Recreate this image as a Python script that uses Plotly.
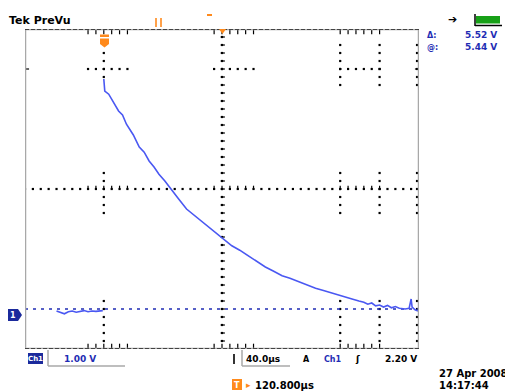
import numpy as np
import plotly.graph_objects as go

# The page body has an 8px margin, so the figure is drawn 8px smaller and
# every pixel position below is given in window coordinates and shifted.
WIN_W, WIN_H = 513, 392
OFF = 8
W, H = WIN_W - OFF, WIN_H - OFF

# ---------------- data ----------------
# time in microseconds relative to trigger, voltage in volts (1 V/div, 40 us/div)
pre_t = [-48, -44, -40, -36, -32, -28, -24, -20, -16, -12, -8, -4, -1]
pre_v = [-0.05, -0.08, -0.12, -0.07, -0.05, -0.08, -0.06, -0.04, -0.07, -0.05, -0.06, -0.05, -0.04]

post_t = [0, 1, 5, 10, 15, 19, 23, 30, 36, 41, 46, 51, 56, 62, 68, 76, 84, 90, 96, 102,
          107, 113, 119, 125, 130, 138, 147, 155, 164, 172, 181, 189, 198, 206, 215, 223,
          231, 239, 246, 252, 259, 264, 268, 272, 276, 280, 284, 288, 292, 296, 300, 306,
          310, 312, 313, 316, 319]
post_v = [5.75, 5.45, 5.37, 5.15, 4.95, 4.85, 4.62, 4.35, 4.05, 3.92, 3.70, 3.55, 3.37, 3.20,
          3.00, 2.75, 2.50, 2.38, 2.25, 2.12, 2.03, 1.90, 1.78, 1.68, 1.58, 1.47, 1.33, 1.20,
          1.05, 0.95, 0.83, 0.77, 0.68, 0.60, 0.52, 0.46, 0.40, 0.33, 0.28, 0.25, 0.20, 0.17,
          0.12, 0.15, 0.08, 0.10, 0.05, 0.09, 0.03, 0.06, 0.02, 0.00, 0.02, 0.25, 0.05, -0.02,
          -0.05]

x_range = [-80, 320]   # 10 divisions of 40 us
y_range = [-1, 7]      # 8 divisions of 1 V, ground at 0 V

ch_scale = "1.00 V"
time_scale = "40.0µs"
trig_level = "2.20 V"
trig_pos = "120.800µs"
delta_v = "5.52 V"
at_v = "5.44 V"
date_txt = "27 Apr 2008"
time_txt = "14:17:44"

# ---------------- helpers ----------------
def px(x):
    return (x - OFF) / W

def py(y):
    return 1 - (y - OFF) / H

TRACE = "#4a58f2"
DARKBLUE = "#1f2db4"
ORANGE = "#ff8a1c"
FONT = "DejaVu Sans"

fig = go.Figure()

# grid dots (graticule fragments)
def vdots(t, v0, v1):
    vs = np.arange(v0, v1 + 1e-6, 0.2)
    return [t] * len(vs), list(vs)

def hdots(v, t0, t1):
    ts = np.arange(t0, t1 + 1e-6, 8)
    return list(ts), [v] * len(ts)

gx, gy = [], []
segs = []
segs.append(vdots(0, 5.8, 6.4))
segs.append(vdots(0, 2.4, 3.4))
segs.append(vdots(0, -0.8, 0.2))
for t in [240, 280, 318]:
    segs.append(vdots(t, 5.6, 6.6))
    segs.append(vdots(t, 2.4, 3.4))
    segs.append(vdots(t, -0.8, 0.2))
segs.append(hdots(6, -16, 24))
segs.append(hdots(6, 112, 152))
segs.append(hdots(6, 240, 280))
segs.append(vdots(120, -1, 7))
segs.append(hdots(3, -80, 320))
for a, b in segs:
    gx += a
    gy += b
fig.add_trace(go.Scatter(x=gx, y=gy, mode="markers", hoverinfo="skip",
                         marker=dict(symbol="square", size=2.2, color="black", line=dict(width=0))))

# small perpendicular ticks near the centre lines and borders
tx, ty = [], []
for t0, t1 in [(-16, 24), (112, 152), (240, 280)]:
    a, b = hdots(3.03, t0, t1); tx += a; ty += b
    a, b = hdots(6.92, t0, t1); tx += a; ty += b
    a, b = hdots(-0.92, t0, t1); tx += a; ty += b
fig.add_trace(go.Scatter(x=tx, y=ty, mode="markers", hoverinfo="skip",
                         marker=dict(symbol="line-ns", size=3, color="black",
                                     line=dict(width=1.2, color="black"))))
cx, cy = vdots(120.8, -0.8, 6.8)
cx += [-78, 318]
cy += [6, 6]
fig.add_trace(go.Scatter(x=cx, y=cy, mode="markers", hoverinfo="skip",
                         marker=dict(symbol="line-ew", size=3, color="black",
                                     line=dict(width=1.2, color="black"))))

# ground reference line
fig.add_trace(go.Scatter(x=x_range, y=[0, 0], mode="lines", hoverinfo="skip",
                         line=dict(color=DARKBLUE, width=1.7, dash="3px,5px")))

# signal
fig.add_trace(go.Scatter(x=pre_t, y=pre_v, mode="lines", line=dict(color=TRACE, width=1.6)))
fig.add_trace(go.Scatter(x=post_t, y=post_v, mode="lines", line=dict(color=TRACE, width=1.6)))

shapes = []
# frame
shapes.append(dict(type="rect", xref="x", yref="y", x0=x_range[0], x1=x_range[1],
                   y0=y_range[0], y1=y_range[1], line=dict(color="#a8a8a8", width=2.5)))
for yv in y_range:
    shapes.append(dict(type="line", xref="x", yref="y", x0=x_range[0], x1=x_range[1],
                       y0=yv, y1=yv, line=dict(color="#222222", width=1.5, dash="4px,2px")))

def pline(x0, y0, x1, y1, color, width):
    shapes.append(dict(type="line", xref="paper", yref="paper", x0=px(x0), y0=py(y0),
                       x1=px(x1), y1=py(y1), line=dict(color=color, width=width)))

def prect(x0, y0, x1, y1, fill, line=None):
    shapes.append(dict(type="rect", xref="paper", yref="paper", x0=px(x0), y0=py(y0),
                       x1=px(x1), y1=py(y1), fillcolor=fill,
                       line=dict(width=0) if line is None else line))

def ppath(pts, fill):
    d = "M " + " L ".join(f"{px(a):.5f},{py(b):.5f}" for a, b in pts) + " Z"
    shapes.append(dict(type="path", xref="paper", yref="paper", path=d,
                       fillcolor=fill, line=dict(width=0)))

# orange markers at top
pline(156, 18, 156, 27, ORANGE, 1.6)
pline(161, 18, 161, 27, ORANGE, 1.6)
pline(207, 15, 212, 15, ORANGE, 2)
prect(100, 34.5, 109, 37, ORANGE)
ppath([(100, 38.5), (109, 38.5), (109, 44), (104.5, 47.5), (100, 44)], ORANGE)
ppath([(219, 29), (226, 29), (222.5, 34)], ORANGE)

# battery indicator
prect(476, 16, 500, 23.5, "#17a017")
pline(475, 14, 475, 26, "black", 1.5)
pline(475, 25.5, 502, 25.5, "black", 1.5)

# ground marker "1"
ppath([(8, 309), (18, 309), (22, 315), (18, 321), (8, 321)], "#1b2a9c")

# bottom boxes / lines
prect(28, 353, 43, 364, "#1b2a9c")
pline(48, 350, 48, 366, "#a9a9a9", 1.5)
pline(48, 366, 125, 366, "#a9a9a9", 1.5)
pline(234, 354, 234, 364, "black", 1.6)
pline(242, 350, 242, 366, "#a9a9a9", 1.5)
pline(242, 366, 290, 366, "#a9a9a9", 1.5)
prect(232, 379, 242, 390, ORANGE)

fig.update_layout(shapes=shapes)

anns = []
def txt(s, x, y, color="black", size=10, anchor="left", bold=True):
    anns.append(dict(text=f"<b>{s}</b>" if bold else s, x=px(x), y=py(y), xref="paper",
                     yref="paper", xanchor=anchor, yanchor="middle", showarrow=False,
                     font=dict(family=FONT, size=size, color=color)))

txt("Tek PreVu", 7, 20, size=11)
txt("➔", 446, 19, size=11)
txt("Δ:", 425, 35, DARKBLUE, 8)
txt(delta_v, 499, 35, DARKBLUE, 9, anchor="right")
txt("@:", 425, 47, DARKBLUE, 8)
txt(at_v, 499, 47, DARKBLUE, 9, anchor="right")
txt("1", 13, 315.5, "white", 8, anchor="center")
txt("Ch1", 35.5, 359, "white", 7, anchor="center")
txt(ch_scale, 62, 359, DARKBLUE, 9)
txt(time_scale, 244, 359, "black", 9)
txt("A", 301, 359, "black", 8)
txt("Ch1", 322, 359, DARKBLUE, 8)
txt("ʃ", 353, 359, "black", 9)
txt(trig_level, 419, 359, "black", 9, anchor="right")
txt("T", 237, 385, "white", 8, anchor="center")
txt("▸", 244, 385, ORANGE, 9)
txt(trig_pos, 253, 385, "black", 10)
txt(date_txt, 437, 373, "black", 10)
txt(time_txt, 437, 385, "black", 10)

fig.update_layout(
    annotations=anns,
    width=W, height=H,
    margin=dict(l=0, r=0, t=0, b=0),
    paper_bgcolor="white", plot_bgcolor="white",
    showlegend=False,
    xaxis=dict(range=x_range, domain=[px(25), px(419)], visible=False, fixedrange=True),
    yaxis=dict(range=y_range, domain=[py(349), py(29)], visible=False, fixedrange=True),
)

fig.write_html("out.html")
